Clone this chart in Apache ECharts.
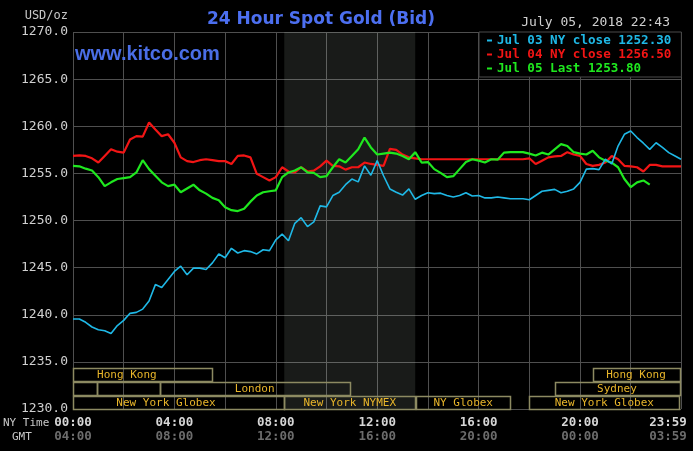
<!DOCTYPE html>
<html><head><meta charset="utf-8">
<script src="https://cdn.jsdelivr.net/npm/echarts@6/dist/echarts.min.js"></script>
<style>html,body{margin:0;padding:0;background:#000;}#c{width:693px;height:451px;}</style>
</head><body><div id="c"></div>
<script>
// minutes after 00:00 New York time
const times = [0,15,30,45,60,75,90,105,120,135,150,165,180,195,210,225,240,255,270,285,300,315,330,345,360,375,390,405,420,435,450,465,480,495,510,525,540,555,570,585,600,615,630,645,660,675,690,705,720,735,750,765,780,795,810,825,840,855,870,885,900,915,930,945,960,975,990,1005,1020,1035,1050,1065,1080,1095,1110,1125,1140,1155,1170,1185,1200,1215,1230,1245,1260,1275,1290,1305,1320,1335,1350,1365,1380,1395,1410,1425,1439];

const jul03 = [1239.55,1239.55,1239.2,1238.7,1238.4,1238.3,1238.0,1238.85,1239.4,1240.15,1240.25,1240.6,
1241.45,1243.2,1242.9,1243.75,1244.6,1245.15,1244.25,1244.95,1244.95,1244.8,1245.5,1246.45,
1246.05,1247.05,1246.55,1246.8,1246.7,1246.45,1246.9,1246.8,1247.95,1248.55,1247.85,1249.7,
1250.3,1249.35,1249.85,1251.55,1251.45,1252.65,1253.0,1253.8,1254.4,1254.1,1255.8,1254.8,
1256.35,1254.75,1253.35,1253.0,1252.7,1253.35,1252.25,1252.65,1252.95,1252.85,1252.9,1252.65,
1252.5,1252.65,1252.95,1252.6,1252.65,1252.4,1252.4,1252.5,1252.4,1252.3,1252.3,1252.3,
1252.2,1252.65,1253.1,1253.2,1253.3,1252.95,1253.1,1253.35,1254.05,1255.45,1255.5,1255.4,
1256.5,1256.0,1257.9,1259.15,1259.5,1258.8,1258.2,1257.55,1258.25,1257.75,1257.2,1256.85,1256.5];

const jul04 = [1256.85,1256.9,1256.85,1256.6,1256.15,1256.85,1257.55,1257.3,1257.2,1258.6,1258.95,1258.9,
1260.4,1259.65,1258.95,1259.15,1258.25,1256.7,1256.3,1256.2,1256.4,1256.5,1256.4,1256.3,
1256.3,1256.0,1256.85,1256.9,1256.7,1254.95,1254.6,1254.25,1254.6,1255.65,1255.2,1255.1,
1255.65,1255.2,1255.3,1255.75,1256.35,1255.8,1255.75,1255.4,1255.65,1255.65,1256.15,1256.0,
1255.9,1255.8,1257.6,1257.5,1257.0,1256.7,1256.6,1256.5,1256.5,1256.5,1256.5,1256.5,
1256.5,1256.5,1256.5,1256.5,1256.5,1256.5,1256.5,1256.5,1256.5,1256.5,1256.5,1256.5,
1256.6,1256.0,1256.35,1256.7,1256.8,1256.85,1257.25,1257.0,1256.85,1256.0,1255.8,1255.9,
1256.15,1256.85,1256.5,1255.8,1255.75,1255.65,1255.2,1255.9,1255.9,1255.75,1255.75,1255.75,1255.75];

const jul05 = [1255.8,1255.75,1255.5,1255.3,1254.6,1253.65,1254.05,1254.4,1254.5,1254.6,1255.1,1256.4,
1255.45,1254.75,1254.05,1253.65,1253.8,1253.0,1253.4,1253.8,1253.2,1252.85,1252.4,1252.15,
1251.4,1251.1,1251.0,1251.25,1252.0,1252.65,1253.0,1253.1,1253.2,1254.6,1255.1,1255.3,
1255.65,1255.1,1255.05,1254.6,1254.7,1255.65,1256.5,1256.15,1256.85,1257.55,1258.8,1257.75,
1257.0,1257.1,1257.2,1257.1,1256.85,1256.5,1257.25,1256.15,1256.2,1255.45,1255.05,1254.6,
1254.7,1255.45,1256.2,1256.5,1256.35,1256.15,1256.5,1256.45,1257.2,1257.25,1257.25,1257.25,
1257.1,1256.9,1257.2,1257.0,1257.55,1258.1,1257.9,1257.25,1257.1,1257.0,1257.4,1256.7,
1256.35,1256.15,1255.65,1254.4,1253.55,1254.05,1254.25,1253.8,null,null,null,null,null];

const seriesNames = ['Jul 03 NY close 1252.30','Jul 04 NY close 1256.50','Jul 05 Last 1253.80'];
const seriesColors = ['#1fb8e6','#f21515','#1fe81f'];

const yTicks = [1230,1235,1240,1245,1250,1255,1260,1265,1270];
const labelMinutes = [0,240,480,720,960,1200,1439];
const nyLabels = ['00:00','04:00','08:00','12:00','16:00','20:00','23:59'];
const gmtLabels = ['04:00','08:00','12:00','16:00','20:00','00:00','03:59'];

const nymexStart = 500, nymexEnd = 810;

const sessionNames = ['Hong Kong','','','London','New York Globex','New York NYMEX','NY Globex','New York Globex','Sydney','Hong Kong'];
const sessionStart = [-75,0,57,205,-60,500,812,1080,1140,1230];
const sessionEnd   = [330,57,205,655,500,810,1035,1435,1435,1435];
const sessionRow   = [2,1,1,1,0,0,0,0,1,2];

const mono = "'DejaVu Sans Mono', monospace";
const chart = echarts.init(document.getElementById('c'));

function pairs(vals){ return times.map((t,i)=>[t, vals[i]]); }

const option = {
  backgroundColor: '#000',
  animation: false,
  grid: {left: 73, right: 12, top: 32, bottom: 42, containLabel: false, outerBoundsMode: 'none'},
  legend: {
    orient: 'vertical', left: 479, top: 32,
    icon: 'rect', itemWidth: 5, itemHeight: 2, itemGap: 1,
    backgroundColor: '#000', borderColor: '#4a4a4a', borderWidth: 1,
    padding: [2, 10, 2, 8],
    textStyle: {fontFamily: mono, fontSize: 12.6, fontWeight: 'bold', lineHeight: 12.5},
    data: [
      {name: seriesNames[0], textStyle: {color: seriesColors[0]}},
      {name: seriesNames[1], textStyle: {color: seriesColors[1]}},
      {name: seriesNames[2], textStyle: {color: seriesColors[2]}}
    ]
  },
  xAxis: {
    type: 'value', min: 0, max: 1439, interval: 120,
    axisLine: {show: false}, axisTick: {show: false},
    splitLine: {show: true, lineStyle: {color: '#4f4f4f', width: 1}},
    axisLabel: {
      margin: 7,
      showMinLabel: true, showMaxLabel: true,
      formatter: function(v){
        const i = labelMinutes.indexOf(v);
        if (i < 0) return '';
        if (v === 1439) return '{n2|' + nyLabels[i] + '}\n{g2|' + gmtLabels[i] + '}';
        return '{n|' + nyLabels[i] + '}\n{g|' + gmtLabels[i] + '}';
      },
      rich: {
        n: {fontFamily: mono, fontSize: 12.5, fontWeight: 'bold', color: '#d6d6d6', lineHeight: 14},
        g: {fontFamily: mono, fontSize: 12.5, fontWeight: 'bold', color: '#6c6c6c', lineHeight: 14},
        n2: {fontFamily: mono, fontSize: 12.5, fontWeight: 'bold', color: '#d6d6d6', lineHeight: 14, padding: [0, 26, 0, 0]},
        g2: {fontFamily: mono, fontSize: 12.5, fontWeight: 'bold', color: '#6c6c6c', lineHeight: 14, padding: [0, 26, 0, 0]}
      }
    }
  },
  yAxis: {
    type: 'value', min: yTicks[0], max: yTicks[yTicks.length-1], interval: 5,
    axisLine: {show: false}, axisTick: {show: false},
    splitLine: {show: true, lineStyle: {color: '#4f4f4f', width: 1}},
    axisLabel: {margin: 5, color: '#d0d0d0', fontFamily: mono, fontSize: 13,
      formatter: v => v.toFixed(1)}
  },
  graphic: [
    {type: 'text', x: 321, y: 20, style: {text: '24 Hour Spot Gold (Bid)', fill: '#4c6ff0',
      font: "bold 17px 'DejaVu Sans', sans-serif", textAlign: 'center', textVerticalAlign: 'middle'}},
    {type: 'text', x: 75, y: 54, z: 10, style: {text: 'www.kitco.com', fill: '#4a6ee6',
      font: "bold 20px 'Liberation Sans', Arial, sans-serif", textAlign: 'left', textVerticalAlign: 'middle'}},
    {type: 'text', x: 68, y: 16, style: {text: 'USD/oz', fill: '#c8c8c8',
      font: "12px 'DejaVu Sans Mono', monospace", textAlign: 'right', textVerticalAlign: 'middle'}},
    {type: 'text', x: 670, y: 23, style: {text: 'July 05, 2018 22:43', fill: '#d0d0d0',
      font: "13px 'DejaVu Sans Mono', monospace", textAlign: 'right', textVerticalAlign: 'middle'}},
    {type: 'text', x: 3, y: 423, style: {text: 'NY Time', fill: '#c8c8c8',
      font: "11px 'DejaVu Sans Mono', monospace", textAlign: 'left', textVerticalAlign: 'middle'}},
    {type: 'text', x: 12, y: 437, style: {text: 'GMT', fill: '#c8c8c8',
      font: "11px 'DejaVu Sans Mono', monospace", textAlign: 'left', textVerticalAlign: 'middle'}}
  ],
  series: [
    {
      name: 'sessions', type: 'custom', z: 1, silent: true,
      data: sessionStart.map((s, i) => [s, sessionEnd[i], 1230]),
      encode: {x: [0, 1], y: 2},
      renderItem: function(params, api){
        const i = params.dataIndex;
        const cs = params.coordSys;
        const gl = cs.x, gr = cs.x + cs.width, gb = cs.y + cs.height;
        const xs = api.coord([sessionStart[i], 1230])[0];
        const xe = api.coord([sessionEnd[i], 1230])[0];
        const x1 = Math.max(xs, gl), x2 = Math.min(xe, gr);
        const top = gb - 13 - 14 * sessionRow[i];
        const children = [{
          type: 'rect',
          shape: {x: Math.round(x1) + 0.5, y: top + 0.5, width: Math.round(x2 - x1), height: 13},
          style: {fill: 'none', stroke: '#8d8a62', lineWidth: 1.5}
        }];
        if (sessionNames[i]) {
          children.push({type: 'text', x: (xs + xe) / 2, y: top + 7.5,
            style: {text: sessionNames[i], fill: '#e8b52a', font: "11px 'DejaVu Sans Mono', monospace",
              textAlign: 'center', textVerticalAlign: 'middle'}});
        }
        return {type: 'group', children: children};
      }
    },
    {
      name: seriesNames[1], type: 'line', data: pairs(jul04), showSymbol: false, z: 3,
      color: seriesColors[1], lineStyle: {width: 2.2, color: seriesColors[1]},
      markArea: {silent: true, itemStyle: {color: 'rgba(230,245,230,0.11)'},
        data: [[{xAxis: nymexStart}, {xAxis: nymexEnd}]]}
    },
    {
      name: seriesNames[2], type: 'line', data: pairs(jul05), showSymbol: false, z: 4,
      color: seriesColors[2], lineStyle: {width: 2.2, color: seriesColors[2]}
    },
    {
      name: seriesNames[0], type: 'line', data: pairs(jul03), showSymbol: false, z: 5,
      color: seriesColors[0], lineStyle: {width: 1.6, color: seriesColors[0]}
    }
  ]
};
chart.setOption(option);
</script>
</body></html>
